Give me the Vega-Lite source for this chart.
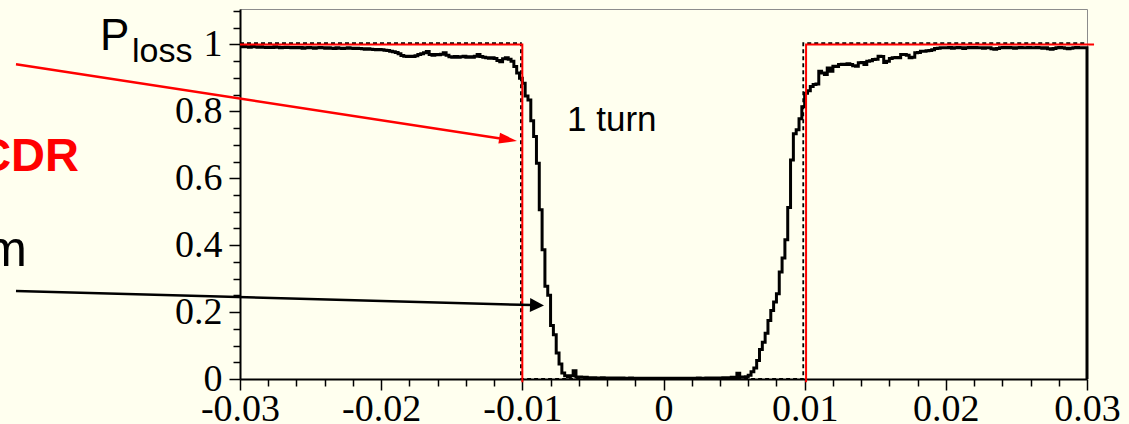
{
"$schema": "https://vega.github.io/schema/vega-lite/v6.json",
"width": 847, "height": 370,
"autosize": {"type": "none"},
"padding": {"left": 240, "top": 9, "right": 42, "bottom": 45},
"background": "#ffffef",
"config": {"view": {"stroke": "#8c8c8c", "strokeWidth": 1}, "axis": {"grid": false}},
"datasets": {
"hist": [
{"x":-0.03,"p":0.993},{"x":-0.0298,"p":0.994},{"x":-0.0296,"p":0.993},{"x":-0.0294,"p":0.992},{"x":-0.0292,"p":0.994},{"x":-0.029,"p":0.993},{"x":-0.0288,"p":0.992},{"x":-0.0286,"p":0.993},{"x":-0.0284,"p":0.992},{"x":-0.0282,"p":0.991},
{"x":-0.028,"p":0.992},{"x":-0.0278,"p":0.991},{"x":-0.0276,"p":0.993},{"x":-0.0274,"p":0.992},{"x":-0.0272,"p":0.990},{"x":-0.027,"p":0.991},{"x":-0.0268,"p":0.992},{"x":-0.0266,"p":0.991},{"x":-0.0264,"p":0.990},{"x":-0.0262,"p":0.991},
{"x":-0.026,"p":0.990},{"x":-0.0258,"p":0.991},{"x":-0.0256,"p":0.989},{"x":-0.0254,"p":0.990},{"x":-0.0252,"p":0.991},{"x":-0.025,"p":0.990},{"x":-0.0248,"p":0.989},{"x":-0.0246,"p":0.990},{"x":-0.0244,"p":0.991},{"x":-0.0242,"p":0.990},
{"x":-0.024,"p":0.989},{"x":-0.0238,"p":0.990},{"x":-0.0236,"p":0.989},{"x":-0.0234,"p":0.988},{"x":-0.0232,"p":0.990},{"x":-0.023,"p":0.989},{"x":-0.0228,"p":0.988},{"x":-0.0226,"p":0.989},{"x":-0.0224,"p":0.990},{"x":-0.0222,"p":0.989},
{"x":-0.022,"p":0.988},{"x":-0.0218,"p":0.989},{"x":-0.0216,"p":0.988},{"x":-0.0214,"p":0.987},{"x":-0.0212,"p":0.986},{"x":-0.021,"p":0.987},{"x":-0.0208,"p":0.986},{"x":-0.0206,"p":0.985},{"x":-0.0204,"p":0.984},{"x":-0.0202,"p":0.985},
{"x":-0.02,"p":0.984},{"x":-0.0198,"p":0.983},{"x":-0.0196,"p":0.982},{"x":-0.0194,"p":0.980},{"x":-0.0192,"p":0.978},{"x":-0.019,"p":0.976},{"x":-0.0188,"p":0.972},{"x":-0.0186,"p":0.967},{"x":-0.0184,"p":0.965},{"x":-0.0182,"p":0.964},
{"x":-0.018,"p":0.965},{"x":-0.0178,"p":0.964},{"x":-0.0176,"p":0.966},{"x":-0.0174,"p":0.970},{"x":-0.0172,"p":0.972},{"x":-0.017,"p":0.975},{"x":-0.0168,"p":0.979},{"x":-0.0166,"p":0.970},{"x":-0.0164,"p":0.968},{"x":-0.0162,"p":0.970},
{"x":-0.016,"p":0.969},{"x":-0.0158,"p":0.971},{"x":-0.0156,"p":0.975},{"x":-0.0154,"p":0.968},{"x":-0.0152,"p":0.963},{"x":-0.015,"p":0.962},{"x":-0.0148,"p":0.964},{"x":-0.0146,"p":0.962},{"x":-0.0144,"p":0.963},{"x":-0.0142,"p":0.965},
{"x":-0.014,"p":0.962},{"x":-0.0138,"p":0.963},{"x":-0.0136,"p":0.962},{"x":-0.0134,"p":0.965},{"x":-0.0132,"p":0.970},{"x":-0.013,"p":0.964},{"x":-0.0128,"p":0.962},{"x":-0.0126,"p":0.960},{"x":-0.0124,"p":0.959},{"x":-0.0122,"p":0.960},
{"x":-0.012,"p":0.958},{"x":-0.0118,"p":0.952},{"x":-0.0116,"p":0.948},{"x":-0.0114,"p":0.957},{"x":-0.0112,"p":0.960},{"x":-0.011,"p":0.956},{"x":-0.0108,"p":0.950},{"x":-0.0106,"p":0.934},{"x":-0.0104,"p":0.915},{"x":-0.0102,"p":0.899},
{"x":-0.01,"p":0.884},{"x":-0.0098,"p":0.846},{"x":-0.0096,"p":0.834},{"x":-0.0094,"p":0.772},{"x":-0.0092,"p":0.725},{"x":-0.009,"p":0.645},{"x":-0.0088,"p":0.506},{"x":-0.0086,"p":0.386},{"x":-0.0084,"p":0.277},{"x":-0.0082,"p":0.250},
{"x":-0.008,"p":0.160},{"x":-0.0078,"p":0.132},{"x":-0.0076,"p":0.078},{"x":-0.0074,"p":0.045},{"x":-0.0072,"p":0.018},{"x":-0.007,"p":0.010},{"x":-0.0068,"p":0.006},{"x":-0.0066,"p":0.010},{"x":-0.0064,"p":0.025},{"x":-0.0062,"p":0.006},
{"x":-0.006,"p":0.006},{"x":-0.0058,"p":0.005},{"x":-0.0056,"p":0.005},{"x":-0.0054,"p":0.004},{"x":-0.0052,"p":0.004},{"x":-0.005,"p":0.004},{"x":-0.0048,"p":0.003},{"x":-0.0046,"p":0.003},{"x":-0.0044,"p":0.004},{"x":-0.0042,"p":0.003},
{"x":-0.004,"p":0.003},{"x":-0.0038,"p":0.003},{"x":-0.0036,"p":0.002},{"x":-0.0034,"p":0.003},{"x":-0.0032,"p":0.002},{"x":-0.003,"p":0.003},{"x":-0.0028,"p":0.002},{"x":-0.0026,"p":0.002},{"x":-0.0024,"p":0.003},{"x":-0.0022,"p":0.002},
{"x":-0.002,"p":0.002},{"x":-0.0018,"p":0.002},{"x":-0.0016,"p":0.002},{"x":-0.0014,"p":0.002},{"x":-0.0012,"p":0.002},{"x":-0.001,"p":0.002},{"x":-0.0008,"p":0.002},{"x":-0.0006,"p":0.002},{"x":-0.0004,"p":0.002},{"x":-0.0002,"p":0.002},
{"x":0,"p":0.002},{"x":0.0002,"p":0.002},{"x":0.0004,"p":0.002},{"x":0.0006,"p":0.002},{"x":0.0008,"p":0.002},{"x":0.001,"p":0.002},{"x":0.0012,"p":0.002},{"x":0.0014,"p":0.002},{"x":0.0016,"p":0.002},{"x":0.0018,"p":0.002},
{"x":0.002,"p":0.002},{"x":0.0022,"p":0.002},{"x":0.0024,"p":0.003},{"x":0.0026,"p":0.002},{"x":0.0028,"p":0.002},{"x":0.003,"p":0.003},{"x":0.0032,"p":0.002},{"x":0.0034,"p":0.003},{"x":0.0036,"p":0.003},{"x":0.0038,"p":0.003},
{"x":0.004,"p":0.003},{"x":0.0042,"p":0.004},{"x":0.0044,"p":0.004},{"x":0.0046,"p":0.004},{"x":0.0048,"p":0.005},{"x":0.005,"p":0.004},{"x":0.0052,"p":0.017},{"x":0.0054,"p":0.006},{"x":0.0056,"p":0.005},{"x":0.0058,"p":0.007},
{"x":0.006,"p":0.011},{"x":0.0062,"p":0.022},{"x":0.0064,"p":0.033},{"x":0.0066,"p":0.055},{"x":0.0068,"p":0.088},{"x":0.007,"p":0.110},{"x":0.0072,"p":0.137},{"x":0.0074,"p":0.175},{"x":0.0076,"p":0.205},{"x":0.0078,"p":0.230},
{"x":0.008,"p":0.255},{"x":0.0082,"p":0.320},{"x":0.0084,"p":0.362},{"x":0.0086,"p":0.416},{"x":0.0088,"p":0.513},{"x":0.009,"p":0.655},{"x":0.0092,"p":0.733},{"x":0.0094,"p":0.745},{"x":0.0096,"p":0.778},{"x":0.0098,"p":0.814},
{"x":0.01,"p":0.854},{"x":0.0102,"p":0.862},{"x":0.0104,"p":0.874},{"x":0.0106,"p":0.880},{"x":0.0108,"p":0.882},{"x":0.011,"p":0.920},{"x":0.0112,"p":0.915},{"x":0.0114,"p":0.910},{"x":0.0116,"p":0.930},{"x":0.0118,"p":0.920},
{"x":0.012,"p":0.935},{"x":0.0122,"p":0.934},{"x":0.0124,"p":0.940},{"x":0.0126,"p":0.941},{"x":0.0128,"p":0.940},{"x":0.013,"p":0.942},{"x":0.0132,"p":0.940},{"x":0.0134,"p":0.936},{"x":0.0136,"p":0.935},{"x":0.0138,"p":0.945},
{"x":0.014,"p":0.946},{"x":0.0142,"p":0.940},{"x":0.0144,"p":0.950},{"x":0.0146,"p":0.951},{"x":0.0148,"p":0.955},{"x":0.015,"p":0.956},{"x":0.0152,"p":0.965},{"x":0.0154,"p":0.964},{"x":0.0156,"p":0.946},{"x":0.0158,"p":0.950},
{"x":0.016,"p":0.958},{"x":0.0162,"p":0.960},{"x":0.0164,"p":0.961},{"x":0.0166,"p":0.960},{"x":0.0168,"p":0.970},{"x":0.017,"p":0.970},{"x":0.0172,"p":0.968},{"x":0.0174,"p":0.960},{"x":0.0176,"p":0.962},{"x":0.0178,"p":0.975},
{"x":0.018,"p":0.976},{"x":0.0182,"p":0.980},{"x":0.0184,"p":0.980},{"x":0.0186,"p":0.981},{"x":0.0188,"p":0.982},{"x":0.019,"p":0.984},{"x":0.0192,"p":0.988},{"x":0.0194,"p":0.989},{"x":0.0196,"p":0.990},{"x":0.0198,"p":0.990},
{"x":0.02,"p":0.990},{"x":0.0202,"p":0.991},{"x":0.0204,"p":0.989},{"x":0.0206,"p":0.990},{"x":0.0208,"p":0.991},{"x":0.021,"p":0.990},{"x":0.0212,"p":0.988},{"x":0.0214,"p":0.990},{"x":0.0216,"p":0.991},{"x":0.0218,"p":0.990},
{"x":0.022,"p":0.991},{"x":0.0222,"p":0.990},{"x":0.0224,"p":0.990},{"x":0.0226,"p":0.989},{"x":0.0228,"p":0.990},{"x":0.023,"p":0.990},{"x":0.0232,"p":0.987},{"x":0.0234,"p":0.986},{"x":0.0236,"p":0.988},{"x":0.0238,"p":0.990},
{"x":0.024,"p":0.991},{"x":0.0242,"p":0.990},{"x":0.0244,"p":0.991},{"x":0.0246,"p":0.990},{"x":0.0248,"p":0.989},{"x":0.025,"p":0.990},{"x":0.0252,"p":0.991},{"x":0.0254,"p":0.990},{"x":0.0256,"p":0.990},{"x":0.0258,"p":0.991},
{"x":0.026,"p":0.990},{"x":0.0262,"p":0.990},{"x":0.0264,"p":0.991},{"x":0.0266,"p":0.990},{"x":0.0268,"p":0.989},{"x":0.027,"p":0.990},{"x":0.0272,"p":0.987},{"x":0.0274,"p":0.986},{"x":0.0276,"p":0.988},{"x":0.0278,"p":0.990},
{"x":0.028,"p":0.991},{"x":0.0282,"p":0.990},{"x":0.0284,"p":0.989},{"x":0.0286,"p":0.987},{"x":0.0288,"p":0.989},{"x":0.029,"p":0.990},{"x":0.0292,"p":0.991},{"x":0.0294,"p":0.990},{"x":0.0296,"p":0.990},{"x":0.0298,"p":0.990},
{"x":0.03,"p":0}
],
"ideal": [
{"i":0,"x":-0.03,"p":1.004},{"i":1,"x":-0.0101,"p":1.004},{"i":2,"x":-0.0101,"p":0},{"i":3,"x":0.0099,"p":0},{"i":4,"x":0.0099,"p":1.004},{"i":5,"x":0.03,"p":1.004}
],
"cdr": [
{"seg":"a","i":0,"x":-0.03,"p":1},{"seg":"a","i":1,"x":-0.01,"p":1},{"seg":"a","i":2,"x":-0.01,"p":-0.01},
{"seg":"b","i":0,"x":0.0101,"p":-0.01},{"seg":"b","i":1,"x":0.0101,"p":1},{"seg":"b","i":2,"x":0.0305,"p":1}
]
},
"layer": [
{
"data": {"name": "hist"},
"mark": {"type": "line", "interpolate": "step-after", "color": "black", "strokeWidth": 3},
"encoding": {
"x": {"field": "x", "type": "quantitative", "scale": {"domain": [-0.03, 0.03], "nice": false, "zero": false},
 "axis": {"orient": "bottom", "values": [-0.03, -0.02, -0.01, 0, 0.01, 0.02, 0.03], "labelExpr": "(datum.value < -0.0001 ? '-' : '') + format(abs(datum.value), '.2~f')", "labelFont": "Liberation Serif", "labelFontSize": 38, "labelColor": "black", "tickColor": "black", "tickSize": 11, "tickWidth": 1.5, "domainColor": "black", "domainWidth": 2, "labelPadding": 0, "labelFlush": false, "labelOverlap": false, "title": null, "grid": false}},
"y": {"field": "p", "type": "quantitative", "scale": {"domain": [0, 1.106], "nice": false, "zero": false},
 "axis": {"orient": "left", "values": [0, 0.2, 0.4, 0.6, 0.8, 1], "labelExpr": "format(datum.value, '.1~f')", "labelFont": "Liberation Serif", "labelFontSize": 38, "labelColor": "black", "tickColor": "black", "tickSize": 11, "tickWidth": 1.5, "domainColor": "black", "domainWidth": 2, "labelPadding": 7, "labelFlush": false, "labelOverlap": false, "title": null, "grid": false}}
}
},
{
"data": {"name": "ideal"},
"mark": {"type": "line", "color": "black", "strokeWidth": 1.8, "strokeDash": [4, 3]},
"encoding": {
"x": {"field": "x", "type": "quantitative", "scale": {"domain": [-0.03, 0.03], "nice": false, "zero": false},
 "axis": {"orient": "bottom", "values": [-0.028, -0.026, -0.024, -0.022, -0.018, -0.016, -0.014, -0.012, -0.008, -0.006, -0.004, -0.002, 0.002, 0.004, 0.006, 0.008, 0.012, 0.014, 0.016, 0.018, 0.022, 0.024, 0.026, 0.028], "labels": false, "domain": false, "tickColor": "black", "tickSize": 7, "tickWidth": 1.5, "title": null, "grid": false}},
"y": {"field": "p", "type": "quantitative", "scale": {"domain": [0, 1.106], "nice": false, "zero": false},
 "axis": {"orient": "left", "values": [0.05, 0.1, 0.15, 0.25, 0.3, 0.35, 0.45, 0.5, 0.55, 0.65, 0.7, 0.75, 0.85, 0.9, 0.95, 1.05, 1.1], "labels": false, "domain": false, "tickColor": "black", "tickSize": 7, "tickWidth": 1.5, "title": null, "grid": false}},
"order": {"field": "i", "type": "quantitative"}
}
},
{
"data": {"name": "cdr"},
"mark": {"type": "line", "color": "#ff0000", "strokeWidth": 2},
"encoding": {
"x": {"field": "x", "type": "quantitative", "scale": {"domain": [-0.03, 0.03], "nice": false, "zero": false}, "axis": null},
"y": {"field": "p", "type": "quantitative", "scale": {"domain": [0, 1.106], "nice": false, "zero": false}, "axis": null},
"detail": {"field": "seg"},
"order": {"field": "i", "type": "quantitative"}
}
},
{
"data": {"values": [{"x": -0.045868, "p": 0.9408}, {"x": -0.01144, "p": 0.7184}]},
"mark": {"type": "line", "color": "#ff0000", "strokeWidth": 2.5},
"encoding": {
"x": {"field": "x", "type": "quantitative", "axis": null},
"y": {"field": "p", "type": "quantitative", "axis": null}
}
},
{
"data": {"values": [{"x": -0.011008, "p": 0.7157}]},
"mark": {"type": "point", "shape": "M1,0L-1,-0.6L-1,0.6Z", "size": 324, "angle": 8.7, "filled": true, "color": "#ff0000", "opacity": 1},
"encoding": {
"x": {"field": "x", "type": "quantitative", "axis": null},
"y": {"field": "p", "type": "quantitative", "axis": null}
}
},
{
"data": {"values": [{"x": -0.045868, "p": 0.2631}, {"x": -0.009315, "p": 0.2209}]},
"mark": {"type": "line", "color": "black", "strokeWidth": 2.5},
"encoding": {
"x": {"field": "x", "type": "quantitative", "axis": null},
"y": {"field": "p", "type": "quantitative", "axis": null}
}
},
{
"data": {"values": [{"x": -0.008961, "p": 0.2203}]},
"mark": {"type": "point", "shape": "M1,0L-1,-1L-1,1Z", "size": 196, "angle": 1.6, "filled": true, "color": "black", "opacity": 1},
"encoding": {
"x": {"field": "x", "type": "quantitative", "axis": null},
"y": {"field": "p", "type": "quantitative", "axis": null}
}
},
{
"data": {"values": [{"t": "P", "x": -0.039917, "p": 0.9836}]},
"mark": {"type": "text", "align": "left", "baseline": "alphabetic", "font": "Liberation Sans", "fontSize": 44, "color": "black"},
"encoding": {
"x": {"field": "x", "type": "quantitative", "axis": null},
"y": {"field": "p", "type": "quantitative", "axis": null},
"text": {"field": "t"}
}
},
{
"data": {"values": [{"t": "loss", "x": -0.037651, "p": 0.9477}]},
"mark": {"type": "text", "align": "left", "baseline": "alphabetic", "font": "Liberation Sans", "fontSize": 34, "color": "black"},
"encoding": {
"x": {"field": "x", "type": "quantitative", "axis": null},
"y": {"field": "p", "type": "quantitative", "axis": null},
"text": {"field": "t"}
}
},
{
"data": {"values": [{"t": "1 turn", "x": -0.006836, "p": 0.7414}]},
"mark": {"type": "text", "align": "left", "baseline": "alphabetic", "font": "Liberation Sans", "fontSize": 35, "color": "black"},
"encoding": {
"x": {"field": "x", "type": "quantitative", "axis": null},
"y": {"field": "p", "type": "quantitative", "axis": null},
"text": {"field": "t"}
}
},
{
"data": {"values": [{"t": "CDR", "x": -0.041405, "p": 0.6218}]},
"mark": {"type": "text", "align": "right", "baseline": "alphabetic", "font": "Liberation Sans", "fontWeight": "bold", "fontSize": 47, "color": "#ff0000"},
"encoding": {
"x": {"field": "x", "type": "quantitative", "axis": null},
"y": {"field": "p", "type": "quantitative", "axis": null},
"text": {"field": "t"}
}
},
{
"data": {"values": [{"t": "m", "x": -0.045088, "p": 0.3378}]},
"mark": {"type": "text", "align": "right", "baseline": "alphabetic", "font": "Liberation Sans", "fontSize": 50, "color": "black"},
"encoding": {
"x": {"field": "x", "type": "quantitative", "axis": null},
"y": {"field": "p", "type": "quantitative", "axis": null},
"text": {"field": "t"}
}
}
],
"resolve": {"axis": {"x": "independent", "y": "independent"}}
}
